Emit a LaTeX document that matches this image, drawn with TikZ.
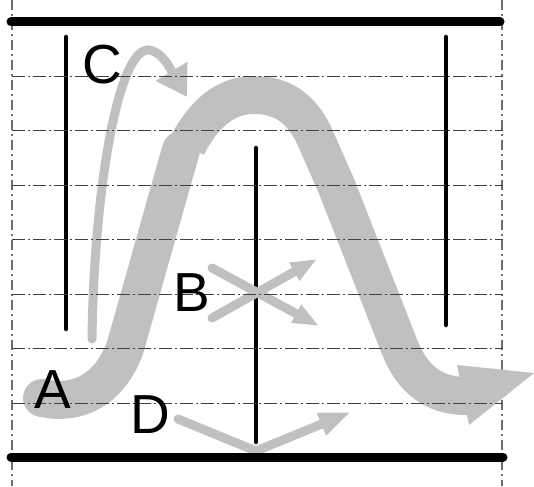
\documentclass[tikz,border=0pt]{standalone}
\usepackage{fontspec}
\setmainfont{Liberation Sans}
\usetikzlibrary{arrows.meta}
\definecolor{flowgrey}{RGB}{192,192,192}
\definecolor{gridgrey}{RGB}{110,110,110}
\tikzset{
  wall/.style={line width=9pt, line cap=round, color=black},
  baffle/.style={line width=4.5pt, line cap=round, color=black},
  mainflow/.style={line width=38pt, color=flowgrey},
  thinflow/.style={line width=9pt, line cap=round, color=flowgrey},
  gridline/.style={line width=1pt, color=black!75, dash pattern=on 13pt off 3pt on 2pt off 3pt},
  borderline/.style={line width=1.2pt, color=gridgrey, dash pattern=on 10pt off 4pt on 2pt off 4pt},
  flowlabel/.style={font=\fontsize{55}{55}\selectfont, inner sep=0pt, color=black}
}
\begin{document}
\begin{tikzpicture}[x=1pt, y=-1pt]
  \useasboundingbox (0,0) rectangle (534,486);
  % Side borders
  \draw[borderline] (12,0) -- (12,486);
  \draw[borderline] (502,0) -- (502,486);
  % Baffles
  \draw[baffle] (66,37) -- (66,329);
  \draw[baffle] (446,37) -- (446,325);
  \draw[baffle] (256,148) -- (256,442);
  % Main flow
  \draw[mainflow, line cap=round] (42,398) .. controls (75,405) and (108,393) .. (125,348)
    -- (171,185) -- (181,150);
  \draw[mainflow] (187,146) .. controls (204,113) and (226,95) .. (254,95)
    .. controls (282,95) and (300,108) .. (313,133) -- (336,185) -- (400,348)
    .. controls (415,385) and (440,397) .. (470,396);
  \fill[flowgrey] (457,365) -- (534,373) -- (469,425) -- cycle;
  % Secondary flows
  \coordinate (cstart) at (92,339);
  \coordinate (ctip) at (187,97);
  \draw[thinflow, -{Triangle[width=35pt,length=30pt]}] (cstart)
    .. controls (94,190) and (118,50) .. (148,50) .. controls (162,50) and (172,72) .. (ctip);
  \coordinate (bupstart) at (212,318);
  \coordinate (buptip) at (317,259);
  \coordinate (bdownstart) at (212,268);
  \coordinate (bdowntip) at (319,326);
  \draw[thinflow, -{Triangle[width=19pt,length=26pt]}] (bupstart) -- (buptip);
  \draw[thinflow, -{Triangle[width=19pt,length=26pt]}] (bdownstart) -- (bdowntip);
  \coordinate (dstart) at (178,419);
  \coordinate (dbend) at (256,451);
  \coordinate (dtip) at (351,412);
  \draw[thinflow, line join=miter, -{Triangle[width=22pt,length=32pt]}] (dstart) -- (dbend) -- (dtip);
  % Grid
  \foreach \yy in {76.5,131,185,239.5,294,348.5,403} {
    \draw[gridline] (12,\yy) -- (503,\yy);
  }
  % Walls
  \draw[wall] (11,22) -- (500,22);
  \draw[wall] (11,457) -- (503,457);
  % Labels
  \node[flowlabel] (labela) at (53,390) {A};
  \node[flowlabel] (labelb) at (192,293) {B};
  \node[flowlabel] (labelc) at (102,65) {C};
  \node[flowlabel] (labeld) at (150,415) {D};
\end{tikzpicture}
\end{document}
